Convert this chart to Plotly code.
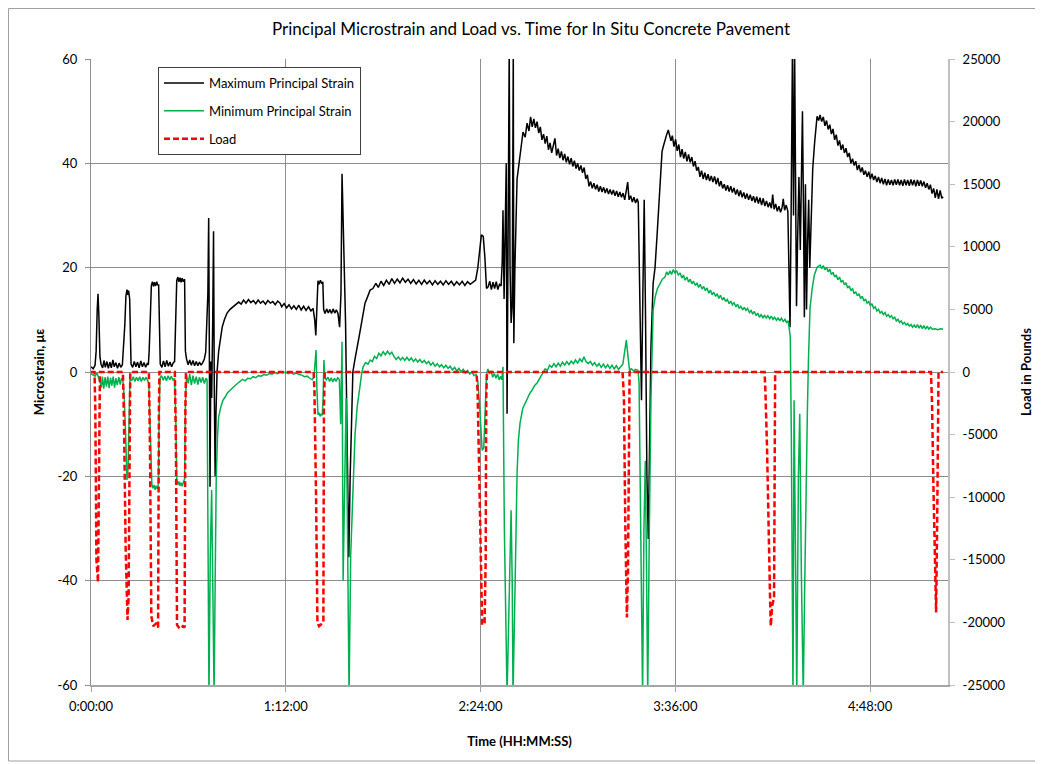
import plotly.graph_objects as go

# ---- data (time in minutes from start) ----
X_TICK_MINUTES = [0, 72, 144, 216, 288]
X_TICK_LABELS = ["0:00:00", "1:12:00", "2:24:00", "3:36:00", "4:48:00"]
Y_TICKS = [-60, -40, -20, 0, 20, 40, 60]
Y_TICK_LABELS = ["-60", "-40", "-20", "0", "20", "40", "60"]
Y2_TICKS = [-25000, -20000, -15000, -10000, -5000, 0, 5000, 10000, 15000, 20000, 25000]
Y2_TICK_LABELS = ["-25000", "-20000", "-15000", "-10000", "-5000", "0", "5000", "10000", "15000", "20000", "25000"]

MAX_STRAIN = [
    (0, 1.0), (0.8, 0.6), (1.5, 1.3), (1.9, 4.0), (2.3, 12.0), (2.6, 15.0), (2.9, 11.0), (3.3, 3.0), (3.7, 1.5),
    (4.3, 0.8), (4.8, 2.2), (5.3, 0.9), (5.9, 2.0), (6.4, 0.7), (7.0, 1.9), (7.5, 0.8), (8.1, 2.3), (8.6, 1.0),
    (9.2, 1.8), (9.8, 0.7), (10.4, 1.7), (11.0, 0.9), (11.6, 1.4),
    (12.1, 5.0), (12.5, 9.0), (12.9, 14.5), (13.3, 15.8), (13.6, 14.8), (13.9, 15.6), (14.3, 14.0), (14.6, 5.0),
    (14.8, 1.5), (15.4, 0.9), (16.0, 2.0), (16.6, 1.0), (17.2, 1.9), (17.8, 0.8), (18.4, 2.1), (19.0, 1.0),
    (19.6, 1.8), (20.2, 0.9), (20.8, 1.6), (21.2, 1.4),
    (21.5, 4.0), (21.9, 10.0), (22.3, 16.5), (22.7, 17.3), (23.1, 16.4), (23.5, 17.2), (23.9, 16.5), (24.3, 17.3),
    (24.7, 16.6), (25.0, 16.8), (25.3, 3.0), (25.6, 1.5), (26.2, 0.9), (26.8, 2.1), (27.4, 1.0), (28.0, 2.2),
    (28.6, 1.1), (29.2, 1.9), (29.8, 1.0), (30.4, 1.8), (30.9, 2.0),
    (31.3, 9.0), (31.7, 17.5), (32.1, 18.2), (32.5, 17.3), (32.9, 18.1), (33.3, 17.2), (33.7, 18.0), (34.1, 17.3),
    (34.6, 17.8), (34.9, 4.0), (35.3, 2.5), (35.9, 1.4), (36.5, 2.3), (37.1, 1.3), (37.7, 2.2), (38.3, 1.2),
    (38.9, 2.0), (39.5, 1.2), (40.1, 1.9), (40.7, 1.3), (41.3, 1.8), (41.9, 2.5), (42.4, 3.8),
    (42.8, 8.0), (43.2, 15.0), (43.5, 29.5), (43.8, 5.0), (44.0, -22.0), (44.3, 2.0), (44.6, -5.0), (45.0, 10.0),
    (45.3, 27.0), (45.6, -5.0), (45.9, -20.0), (46.2, -8.0), (46.6, 0.0), (47.2, 4.0), (47.7, 6.1), (48.5, 8.6),
    (49.3, 10.0), (50.3, 11.3), (51.4, 12.0), (52.5, 12.5), (53.6, 13.0), (54.6, 13.4), (55.5, 13.0), (56.4, 13.8),
    (57.3, 13.2), (58.2, 13.9), (59.1, 13.3), (60.0, 13.7), (60.9, 13.1), (61.8, 13.8), (62.7, 13.2), (63.6, 13.6),
    (64.5, 13.0), (65.4, 13.7), (66.3, 13.2), (67.2, 13.5), (68.1, 12.9), (69.0, 13.6), (69.9, 13.2),
    (70.5, 12.5), (71.4, 13.1), (72.3, 12.3), (73.2, 12.9), (74.1, 12.1), (75.0, 12.7), (75.9, 12.0), (76.8, 12.8),
    (77.7, 11.9), (78.6, 12.6), (79.5, 11.8), (80.4, 12.5), (81.3, 11.7), (82.1, 12.2), (82.7, 10.0), (83.1, 7.0),
    (83.5, 14.0), (83.9, 17.5), (84.3, 16.8), (84.8, 17.6), (85.3, 16.9), (85.7, 17.3), (86.0, 12.0), (86.5, 11.2),
    (87.1, 12.1), (87.7, 11.3), (88.3, 12.0), (88.9, 11.2), (89.5, 12.1), (90.1, 11.3), (90.7, 11.9), (91.3, 11.2),
    (91.9, 8.6), (92.4, 15.0), (92.8, 38.0), (93.2, 30.0), (93.6, 25.0), (94.1, 9.4), (94.6, -10.0), (95.3, -35.5),
    (95.8, -20.0), (96.2, -13.0), (96.8, 0.0), (97.6, 2.5), (98.3, 4.2), (99.2, 7.0), (100.2, 10.0), (101.3, 13.2),
    (102.3, 14.5), (103.2, 15.7), (104.2, 16.0), (105.3, 17.0), (106.2, 16.2), (107.2, 17.4), (108.2, 16.6),
    (109.2, 17.6), (110.2, 16.8), (111.2, 17.9), (112.2, 17.0), (113.2, 17.8), (114.2, 17.1), (115.2, 18.0),
    (116.2, 17.2), (117.2, 17.8), (118.2, 17.0), (119.2, 17.7), (120.2, 16.9), (121.2, 17.6), (122.2, 16.8),
    (123.2, 17.6), (124.2, 16.9), (125.2, 17.5), (126.2, 16.7), (127.2, 17.5), (128.2, 16.8), (129.2, 17.4),
    (130.2, 16.7), (131.2, 17.5), (132.2, 16.8), (133.2, 17.4), (134.2, 16.6), (135.2, 17.3), (136.2, 16.7),
    (137.2, 17.4), (138.2, 16.6), (139.2, 17.3), (140.2, 16.8), (141.2, 17.2), (142.2, 17.6), (143.0, 20.0),
    (143.7, 24.0), (144.3, 26.3), (145.0, 26.0), (145.6, 22.0), (146.2, 16.0), (146.8, 16.3), (147.4, 17.4),
    (148.0, 15.8), (148.6, 17.2), (149.2, 16.0), (149.8, 17.3), (150.4, 15.8), (151.0, 16.8), (151.6, 16.5),
    (152.0, 21.0), (152.3, 31.0), (152.7, 14.0), (153.1, 25.0), (153.5, 40.0), (153.8, -8.0), (154.0, 9.0),
    (154.3, 45.0), (154.6, 62.0), (154.9, 20.0), (155.3, 9.4), (155.7, 12.5), (155.9, 46.0), (156.1, 62.0),
    (156.3, 5.5), (156.7, 20.0), (157.5, 37.0), (158.6, 42.0), (159.7, 46.0), (160.5, 45.0), (161.2, 47.7),
    (161.9, 46.2), (162.5, 48.9), (163.1, 47.0), (163.7, 48.5), (164.3, 46.8), (164.9, 48.0), (165.5, 45.8),
    (166.1, 47.0), (166.7, 44.5), (167.3, 45.6), (167.9, 43.8), (168.5, 45.2), (169.1, 42.6), (169.7, 43.9),
    (170.3, 42.0), (170.9, 43.5), (171.5, 44.8), (172.1, 41.5), (172.7, 42.8), (173.3, 41.0), (173.9, 42.3),
    (174.5, 40.6), (175.1, 41.8), (175.7, 40.2), (176.3, 41.3), (176.9, 39.8), (177.5, 41.0), (178.1, 39.4),
    (178.7, 40.5), (179.3, 39.0), (179.9, 40.0), (180.5, 38.6), (181.1, 39.6), (181.7, 38.2), (182.3, 39.2),
    (182.9, 37.0), (183.5, 37.8), (184.1, 35.6), (184.7, 36.5), (185.3, 35.2), (185.9, 36.2), (186.5, 35.0),
    (187.1, 35.9), (187.7, 34.6), (188.3, 35.6), (188.9, 34.5), (189.5, 35.4), (190.1, 34.3), (190.7, 35.2),
    (191.3, 34.1), (191.9, 35.0), (192.5, 34.0), (193.1, 34.9), (193.7, 33.8), (194.3, 34.7), (194.9, 33.6),
    (195.5, 34.5), (196.1, 33.5), (196.7, 34.3), (197.3, 33.0), (197.9, 34.5), (198.4, 36.4), (198.9, 33.0),
    (199.5, 33.8), (200.1, 32.6), (200.7, 33.5), (201.3, 32.4), (201.9, 33.2), (202.3, 32.5),
    (202.6, 21.5), (203.0, 5.0), (203.5, -5.4), (204.0, 15.0), (204.5, 33.0), (205.0, 10.0), (205.5, -20.0),
    (206.0, -32.0), (206.5, -10.0), (207.0, 5.0), (207.8, 17.0), (208.5, 20.0), (209.3, 26.6), (210.0, 32.0),
    (210.6, 37.0), (211.1, 42.3), (211.7, 43.5), (212.2, 44.6), (212.8, 45.5), (213.4, 46.4), (213.9, 45.2),
    (214.4, 44.3), (214.9, 45.3), (215.5, 43.2), (216.1, 44.6), (216.7, 42.4), (217.3, 43.6), (217.9, 41.2),
    (218.5, 42.7), (219.1, 40.9), (219.7, 42.2), (220.3, 40.4), (220.9, 41.7), (221.5, 40.2), (222.1, 41.2),
    (222.7, 39.4), (223.3, 40.4), (223.9, 38.6), (224.5, 39.3), (225.1, 37.4), (225.7, 38.6), (226.3, 37.0),
    (226.9, 38.2), (227.5, 36.8), (228.1, 37.9), (228.7, 36.6), (229.3, 37.6), (229.9, 36.4), (230.5, 37.5),
    (231.1, 36.0), (231.7, 37.2), (232.3, 35.6), (232.9, 36.6), (233.5, 35.2), (234.1, 36.0), (234.7, 34.8),
    (235.3, 35.8), (235.9, 34.6), (236.5, 35.6), (237.1, 34.4), (237.7, 35.3), (238.3, 34.0), (238.9, 35.0),
    (239.5, 33.7), (240.1, 34.8), (240.7, 33.5), (241.3, 34.4), (241.9, 33.2), (242.5, 34.2), (243.1, 33.0),
    (243.7, 34.0), (244.3, 32.8), (244.9, 33.7), (245.5, 32.5), (246.1, 33.6), (246.7, 32.3), (247.3, 33.4),
    (247.9, 32.0), (248.5, 33.3), (249.1, 31.8), (249.7, 32.8), (250.3, 31.6), (250.9, 32.5), (251.5, 31.4),
    (252.0, 34.0), (252.5, 31.2), (253.1, 32.2), (253.7, 30.8), (254.3, 31.8), (254.9, 30.6), (255.5, 31.6),
    (255.9, 33.2), (256.4, 31.0), (257.0, 32.0), (257.6, 30.8),
    (258.0, 20.0), (258.4, 8.6), (258.8, 30.0), (259.3, 62.0), (259.7, 30.0), (260.1, 62.0), (260.4, 40.0),
    (260.8, 12.6), (261.2, 25.0), (261.7, 37.4), (262.2, 23.4), (262.6, 35.0), (263.0, 50.0), (263.4, 30.0),
    (263.7, 10.5), (264.1, 36.0), (264.5, 12.0), (264.9, 25.0), (265.3, 33.0), (265.7, 20.0), (266.2, 30.0),
    (266.8, 39.0), (267.5, 44.0), (268.4, 49.0), (269.0, 48.2), (269.5, 49.3), (270.1, 48.0), (270.7, 48.9),
    (271.3, 47.2), (271.9, 48.2), (272.5, 46.5), (273.1, 47.4), (273.7, 45.6), (274.3, 46.6), (274.9, 44.5),
    (275.5, 45.5), (276.1, 43.4), (276.7, 44.4), (277.3, 42.6), (277.9, 43.6), (278.5, 42.0), (279.1, 42.9),
    (279.7, 41.2), (280.3, 42.0), (280.9, 40.0), (281.5, 40.9), (282.1, 39.6), (282.7, 40.4), (283.3, 38.7),
    (283.9, 39.7), (284.5, 38.3), (285.1, 39.2), (285.7, 37.8), (286.3, 38.6), (286.9, 37.4), (287.5, 38.4),
    (288.1, 37.0), (288.7, 38.0), (289.3, 36.8), (289.9, 37.6), (290.5, 36.4), (291.1, 37.4), (291.7, 36.2),
    (292.3, 37.2), (292.9, 36.0), (293.5, 37.0), (294.1, 35.8), (294.7, 36.9), (295.3, 35.9), (295.9, 36.8),
    (296.5, 35.8), (297.1, 36.9), (297.7, 35.9), (298.3, 36.9), (298.9, 35.8), (299.5, 36.8), (300.1, 35.7),
    (300.7, 36.9), (301.3, 35.8), (301.9, 36.8), (302.5, 35.7), (303.1, 36.9), (303.7, 35.8), (304.3, 36.8),
    (304.9, 35.6), (305.5, 36.8), (306.1, 35.7), (306.7, 36.7), (307.3, 35.6), (307.9, 36.5), (308.5, 35.3),
    (309.1, 36.2), (309.7, 35.0), (310.3, 35.9), (310.9, 34.2), (311.5, 35.2), (312.1, 33.4), (312.7, 35.0),
    (313.3, 33.2), (313.9, 34.8), (314.5, 33.3), (315.0, 33.6),
]

MIN_STRAIN = [
    (0, -0.3), (0.8, -0.6), (1.5, -0.8), (2.2, -0.2), (2.8, -1.0), (3.3, -1.8), (3.8, -3.0), (4.2, -0.9),
    (4.7, -3.2), (5.2, -1.0), (5.7, -2.8), (6.2, -0.9), (6.7, -3.1), (7.2, -1.1), (7.7, -2.6), (8.2, -0.9),
    (8.7, -3.0), (9.2, -1.2), (9.7, -2.5), (10.3, -1.0), (10.8, -2.4), (11.3, -1.2), (11.8, -1.6),
    (12.3, -5.0), (12.8, -12.0), (13.3, -20.7), (13.7, -18.5), (14.1, -8.0), (14.4, -1.3), (15.0, -1.7),
    (15.6, -0.9), (16.2, -1.8), (16.8, -1.0), (17.4, -1.7), (18.0, -0.9), (18.6, -1.8), (19.2, -1.0),
    (19.8, -1.6), (20.4, -1.0), (21.0, -1.7), (21.4, -2.5),
    (21.7, -8.0), (22.1, -16.0), (22.5, -21.5), (22.9, -22.3), (23.3, -21.7), (23.7, -22.6), (24.1, -21.8),
    (24.5, -22.4), (24.9, -21.6), (25.2, -8.0), (25.5, -1.2), (26.1, -0.7), (26.7, -1.6), (27.3, -0.8),
    (27.9, -1.7), (28.5, -0.7), (29.1, -1.5), (29.7, -0.8), (30.3, -1.6), (30.9, -1.2),
    (31.3, -8.0), (31.7, -20.5), (32.1, -21.6), (32.5, -21.0), (32.9, -21.8), (33.3, -21.2), (33.7, -21.9),
    (34.1, -21.2), (34.6, -20.5), (34.9, -6.0), (35.3, -0.6), (35.9, -2.2), (36.5, -0.4), (37.1, -2.5),
    (37.7, -0.7), (38.3, -2.2), (38.9, -0.9), (39.5, -2.4), (40.1, -1.0), (40.7, -2.0), (41.3, -1.0),
    (41.9, -2.2), (42.5, -1.2),
    (42.9, -1.5), (43.2, -35.0), (43.6, -62.0), (44.1, -35.0), (44.6, -22.6), (45.0, -40.0), (45.5, -62.0),
    (45.9, -40.0), (46.3, -20.0), (46.8, -12.0), (47.2, -8.6), (48.0, -6.7), (48.8, -5.4), (49.6, -4.8),
    (50.4, -4.0), (51.4, -3.5), (52.3, -3.0), (53.2, -2.6), (54.1, -2.2), (55.1, -1.8), (56.0, -1.4),
    (57.0, -1.7), (57.9, -1.2), (58.9, -1.3), (59.9, -0.9), (60.9, -1.1), (61.9, -0.7), (62.9, -0.8),
    (63.9, -0.5), (64.9, -0.6), (65.9, -0.3), (66.9, -0.4), (67.9, -0.1), (68.9, -0.3), (69.9, 0.0),
    (70.9, -0.2), (71.9, 0.0), (72.9, -0.3), (73.9, -0.1), (74.9, -0.4), (75.9, -0.2), (76.9, -0.5),
    (77.9, -0.6), (78.9, -0.9), (79.9, -0.8), (80.9, -1.2), (81.8, -1.5),
    (82.4, -1.0), (82.8, 1.0), (83.2, 4.2), (83.5, -3.0), (83.9, -8.2), (84.3, -7.8), (84.7, -8.5),
    (85.1, -8.0), (85.5, -8.3), (85.8, -5.0), (86.1, 2.3), (86.4, -1.0), (87.0, -1.5), (87.6, -1.0),
    (88.2, -1.8), (88.8, -1.1), (89.4, -1.9), (90.0, -1.2), (90.6, -1.8), (91.2, -1.1), (91.8, -1.4),
    (92.3, -10.0), (92.8, 5.8), (93.2, -40.0), (93.7, -20.0), (94.3, -5.0), (94.8, -30.0), (95.4, -62.0),
    (96.0, -35.0), (96.9, -19.4), (97.6, -12.0), (98.4, -6.7), (99.3, -3.0), (100.0, -0.5), (100.6, 1.0),
    (101.5, 1.8), (102.4, 1.5), (103.2, 2.3), (104.0, 2.0), (104.8, 3.0), (105.6, 2.6), (106.4, 3.6),
    (107.2, 3.1), (108.0, 3.9), (108.8, 3.3), (109.6, 4.0), (110.4, 3.4), (111.2, 3.8), (112.0, 3.0),
    (112.8, 2.4), (113.6, 2.9), (114.4, 2.3), (115.2, 2.8), (116.0, 2.2), (116.8, 2.8), (117.6, 2.2),
    (118.4, 2.7), (119.2, 2.0), (120.0, 2.5), (120.8, 1.9), (121.6, 2.4), (122.4, 1.8), (123.2, 2.2),
    (124.0, 1.6), (124.8, 2.0), (125.6, 1.3), (126.4, 1.8), (127.2, 1.1), (128.0, 1.6), (128.8, 1.0),
    (129.6, 1.4), (130.4, 0.8), (131.2, 1.3), (132.0, 0.7), (132.8, 1.1), (133.6, 0.4), (134.4, 0.9),
    (135.2, 0.2), (136.0, 0.7), (136.8, 0.0), (137.6, 0.5), (138.4, -0.2), (139.2, 0.3), (140.0, -0.4),
    (140.8, 0.0), (141.6, -0.7), (142.4, -0.5),
    (143.0, -2.0), (143.6, -6.0), (144.2, -12.0), (144.6, -15.0), (145.2, -14.5), (145.7, -9.0),
    (146.2, -0.5), (146.7, 0.6), (147.3, -0.3), (147.9, 0.2), (148.5, -1.0), (149.1, -0.3), (149.7, -1.2),
    (150.3, -0.4), (150.9, -1.5), (151.5, -0.8), (151.9, -1.5), (152.3, 1.0),
    (152.8, -30.0), (153.8, -62.0), (154.6, -40.0), (155.3, -26.5), (155.7, -40.0), (156.0, -62.0),
    (156.8, -40.0), (157.5, -19.4), (158.0, -13.0), (158.6, -9.8), (159.6, -7.0), (160.4, -6.0),
    (161.2, -5.0), (162.1, -4.2), (163.0, -3.5), (164.0, -2.6), (164.9, -2.1), (166.0, -1.0), (167.1, 0.0),
    (167.9, 0.6), (168.7, 0.3), (169.5, 1.3), (170.3, 0.9), (171.1, 1.6), (171.9, 1.0), (172.7, 1.7),
    (173.5, 1.1), (174.3, 1.9), (175.1, 1.3), (175.9, 2.0), (176.7, 1.4), (177.5, 2.1), (178.3, 1.6),
    (179.1, 2.3), (179.9, 1.7), (180.7, 2.5), (181.5, 2.0), (182.2, 2.9), (183.0, 2.0), (183.8, 1.6),
    (184.6, 2.0), (185.4, 1.3), (186.2, 1.8), (187.0, 1.1), (187.8, 1.6), (188.6, 0.9), (189.4, 1.5),
    (190.2, 0.8), (191.0, 1.4), (191.8, 0.7), (192.6, 1.3), (193.4, 0.6), (194.2, 1.2), (195.0, 0.5),
    (195.8, 1.0), (196.6, 1.5), (197.3, 4.0), (197.9, 6.1), (198.5, 3.0), (199.1, 0.3), (199.8, 0.6),
    (200.6, 0.2), (201.4, 0.5), (202.2, 0.3),
    (202.6, -2.0), (203.2, -35.0), (203.9, -62.0), (204.4, -30.0), (204.9, -17.0), (205.3, -35.0),
    (205.8, -62.0), (206.4, -30.0), (207.0, -5.0), (207.8, 11.9), (208.6, 14.5), (209.4, 16.0), (210.4, 17.0),
    (211.2, 17.8), (212.2, 18.2), (212.8, 19.2), (213.4, 18.6), (214.0, 19.4), (214.6, 18.7), (215.2, 19.6),
    (215.9, 19.0), (216.5, 19.4), (217.1, 18.6), (217.8, 19.0), (218.4, 18.0), (219.0, 18.6), (219.6, 17.6),
    (220.3, 18.2), (220.9, 17.2), (221.5, 17.8), (222.1, 16.9), (222.7, 17.4), (223.4, 16.6), (224.0, 17.1),
    (224.6, 16.2), (225.2, 16.8), (225.9, 15.9), (226.5, 16.4), (227.1, 15.6), (227.7, 16.1), (228.4, 15.1),
    (229.0, 15.7), (229.6, 14.8), (230.2, 15.3), (230.9, 14.5), (231.5, 15.0), (232.1, 14.1), (232.7, 14.7),
    (233.4, 13.8), (234.0, 14.3), (234.6, 13.5), (235.2, 13.9), (235.9, 13.1), (236.5, 13.6), (237.1, 12.9),
    (237.7, 13.3), (238.4, 12.5), (239.0, 13.0), (239.6, 12.2), (240.2, 12.6), (240.9, 11.9), (241.5, 12.4),
    (242.1, 11.8), (242.7, 12.2), (243.4, 11.4), (244.0, 11.8), (244.6, 11.1), (245.2, 11.6), (245.9, 10.8),
    (246.5, 11.3), (247.1, 10.5), (247.7, 11.0), (248.4, 10.4), (249.0, 10.9), (249.6, 10.3), (250.2, 10.8),
    (250.9, 10.2), (251.5, 10.7), (252.1, 10.1), (252.7, 10.5), (253.4, 9.9), (254.0, 10.4), (254.6, 9.8),
    (255.2, 10.3), (255.9, 9.7), (256.5, 10.1), (257.1, 9.5), (257.7, 9.8),
    (258.2, 8.0), (258.5, 6.7), (258.9, -13.0), (259.5, -62.0), (259.9, -5.4), (260.3, -26.0), (260.9, -62.0),
    (261.5, -20.0), (262.0, -8.0), (262.6, -39.0), (263.3, -62.0), (263.8, -42.0), (264.3, -20.0),
    (264.8, -8.0), (265.2, 2.0), (265.8, 12.3), (266.6, 16.0), (267.4, 18.6), (268.4, 20.1), (269.5, 20.5),
    (270.1, 19.8), (270.7, 20.4), (271.3, 19.6), (271.9, 20.1), (272.5, 19.2), (273.1, 19.7), (273.7, 18.7),
    (274.3, 19.1), (274.9, 18.2), (275.5, 18.6), (276.1, 17.7), (276.7, 18.2), (277.3, 17.2), (277.9, 17.6),
    (278.5, 16.7), (279.1, 17.1), (279.7, 16.1), (280.3, 16.5), (280.9, 15.6), (281.5, 16.0), (282.1, 15.0),
    (282.7, 15.4), (283.3, 14.6), (283.9, 15.0), (284.5, 14.1), (285.1, 14.5), (285.7, 13.6), (286.3, 14.0),
    (286.9, 13.2), (287.5, 13.5), (288.1, 12.7), (288.7, 13.1), (289.3, 12.2), (289.9, 12.5), (290.5, 11.7),
    (291.1, 12.0), (291.7, 11.3), (292.3, 11.6), (292.9, 11.0), (293.5, 11.4), (294.1, 10.7), (294.7, 11.0),
    (295.3, 10.5), (295.9, 10.8), (296.5, 10.2), (297.1, 10.5), (297.7, 9.8), (298.3, 10.1), (298.9, 9.5),
    (299.5, 9.8), (300.1, 9.2), (300.7, 9.5), (301.3, 9.0), (301.9, 9.3), (302.5, 8.8), (303.1, 9.1),
    (303.7, 8.6), (304.3, 9.0), (304.9, 8.5), (305.5, 9.1), (306.1, 8.4), (306.7, 9.0), (307.3, 8.3),
    (307.9, 8.9), (308.5, 8.2), (309.1, 8.8), (309.7, 8.2), (310.3, 8.6), (311.0, 8.2), (312.0, 8.3),
    (313.0, 8.1), (314.0, 8.3), (315.0, 8.2),
]

LOAD_LB = [
    (0, 0), (1.3, 0), (1.6, -3000), (2.0, -15000), (2.6, -16800), (3.0, -5000), (3.3, 0),
    (11.8, 0), (12.2, -4000), (12.8, -14000), (13.5, -19800), (13.9, -18000), (14.3, -2000), (14.5, 0),
    (21.4, 0), (21.8, -6000), (22.3, -19500), (23.0, -20300), (24.0, -20100), (24.8, -20400), (25.1, -3000), (25.3, 0),
    (31.0, 0), (31.4, -6000), (31.8, -20200), (32.8, -20500), (34.0, -20300), (34.6, -20400), (34.9, -3000), (35.1, 0),
    (82.3, 0), (82.6, -1500), (83.2, -10000), (83.7, -20000), (84.3, -20300), (85.5, -20100), (85.9, -20000),
    (86.1, -3000), (86.4, 0),
    (142.5, 0), (142.9, -1500), (143.5, -8000), (144.2, -18000), (144.6, -20200), (145.5, -20000),
    (145.9, -15000), (146.1, -2000), (146.4, 0),
    (196.5, 0), (197.0, -2000), (197.5, -12000), (198.1, -19600), (198.5, -16000), (198.9, -3000), (199.1, 0),
    (249.0, 0), (249.3, -1500), (249.9, -6000), (250.6, -15000), (251.1, -18800), (251.3, -20300),
    (251.8, -18700), (252.5, -18000), (252.7, -5000), (252.9, 0),
    (310.5, 0), (310.9, -2500), (311.4, -9000), (311.9, -15500), (312.4, -19200), (312.8, -12000),
    (313.1, -3000), (313.3, 0), (315.0, 0),
]

X_MAX = 316.8  # 0.22 day

# ---- figure ----
FONT = "Lato, 'Open Sans', sans-serif"
GRID = "#8e8e8e"
W, H = 1035, 756          # page has an 8px body margin
OFF = 8
PL, PR, PT, PB = 91, 948, 59, 685   # plot area in page pixels


def px_to_paper_x(px):
    return (px - PL) / (PR - PL)


def px_to_paper_y(py):
    return (PB - py) / (PB - PT)


fig = go.Figure()

mt, mv = zip(*MAX_STRAIN)
nt, nv = zip(*MIN_STRAIN)
lt, lv = zip(*LOAD_LB)

fig.add_trace(go.Scatter(x=mt, y=mv, mode="lines", name="Maximum Principal Strain",
                         line=dict(color="#000000", width=1.5), legendgroup="a"))
fig.add_trace(go.Scatter(x=nt, y=nv, mode="lines", name="Minimum Principal Strain",
                         line=dict(color="#00b050", width=1.5), legendgroup="b"))
fig.add_trace(go.Scatter(x=lt, y=lv, mode="lines", name="Load", yaxis="y2",
                         line=dict(color="#ff0000", width=2.5, dash="6px,3px"), legendgroup="c"))

fig.update_layout(
    width=W, height=H,
    margin=dict(l=PL - OFF, r=W + OFF - PR, t=PT - OFF, b=H + OFF - PB, autoexpand=False),
    paper_bgcolor="white", plot_bgcolor="white",
    font=dict(family=FONT, size=13, color="#000000"),
    title=dict(text="Principal Microstrain and Load vs. Time for In Situ Concrete Pavement",
               x=(531 - OFF) / W, xref="container", xanchor="center",
               y=1 - (29 - OFF) / H, yref="container", yanchor="middle",
               font=dict(family=FONT, size=17, color="#000000")),
    xaxis=dict(range=[0, X_MAX], tickmode="array", tickvals=X_TICK_MINUTES, ticktext=X_TICK_LABELS,
               showgrid=True, gridcolor=GRID, gridwidth=1, zeroline=False,
               showline=True, linecolor="#a6a6a6", linewidth=1.5,
               ticks="outside", ticklen=5, tickcolor="#a6a6a6", ticklabelstandoff=4,
               tickfont=dict(size=13),
               title=dict(text="<b>Time (HH:MM:SS)</b>", font=dict(size=13), standoff=24)),
    yaxis=dict(range=[-60, 60], tickmode="array", tickvals=Y_TICKS, ticktext=Y_TICK_LABELS,
               showgrid=True, gridcolor=GRID, gridwidth=1, zeroline=False,
               showline=True, linecolor=GRID, linewidth=1,
               ticks="outside", ticklen=5, tickcolor=GRID, ticklabelstandoff=5,
               tickfont=dict(size=13),
               title=dict(text="<b>Microstrain, με</b>", font=dict(size=13), standoff=9)),
    yaxis2=dict(range=[-25000, 25000], tickmode="array", tickvals=Y2_TICKS, ticktext=Y2_TICK_LABELS,
                overlaying="y", side="right",
                showgrid=False, zeroline=False,
                showline=True, linecolor="#bfbfbf", linewidth=2,
                ticks="outside", ticklen=5, tickcolor="#bfbfbf", ticklabelstandoff=5,
                tickfont=dict(size=13),
                title=dict(text="<b>Load in Pounds</b>", font=dict(size=13), standoff=17)),
    legend=dict(x=px_to_paper_x(158), y=px_to_paper_y(67), xanchor="left", yanchor="top",
                bgcolor="white", bordercolor="#404040", borderwidth=1,
                font=dict(family=FONT, size=13, color="#000000"),
                itemwidth=40, tracegroupgap=8, traceorder="grouped"),
    showlegend=True,
    shapes=[dict(type="rect", xref="paper", yref="paper",
                 x0=px_to_paper_x(8.5), x1=px_to_paper_x(1040),
                 y0=px_to_paper_y(761), y1=px_to_paper_y(8.5),
                 line=dict(color="#a0a0a0", width=1), fillcolor="rgba(0,0,0,0)", layer="below")],
)

fig.write_html("out.html")
